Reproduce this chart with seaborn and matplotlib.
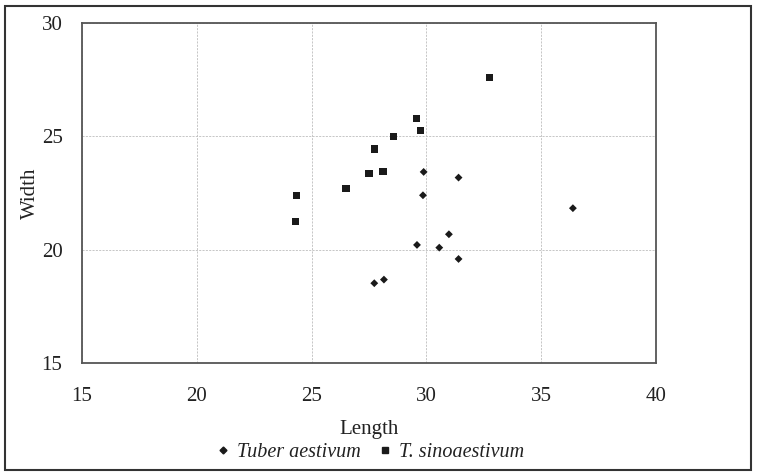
import pandas as pd
import matplotlib
matplotlib.use('Agg')
import matplotlib.pyplot as plt
import seaborn as sns
from matplotlib.patches import Rectangle

# Length / width readings
aestivum_length = [29.88, 31.40, 29.85, 30.98, 29.59, 30.56, 31.40, 27.73, 28.15, 36.38]
aestivum_width  = [23.43, 23.18, 22.40, 20.68, 20.21, 20.09, 19.59, 18.52, 18.68, 21.83]

sino_length = [32.74, 29.58, 29.75, 28.57, 27.75, 27.50, 28.11, 26.50, 24.35, 24.29]
sino_width  = [27.60, 25.77, 25.27, 25.01, 24.44, 23.35, 23.43, 22.69, 22.37, 21.24]

species = ['Tuber aestivum', 'T. sinoaestivum']
x_ticks = [15, 20, 25, 30, 35, 40]
y_ticks = [15, 20, 25, 30]

df = pd.concat([
    pd.DataFrame({'Length': aestivum_length, 'Width': aestivum_width, 'species': species[0]}),
    pd.DataFrame({'Length': sino_length, 'Width': sino_width, 'species': species[1]}),
], ignore_index=True)

sns.set_style('white')
plt.rcParams['font.family'] = ['Liberation Serif', 'DejaVu Serif']

fig = plt.figure(figsize=(7.57, 4.72), dpi=100)
ax = fig.add_axes([0.1083, 0.2309, 0.7583, 0.7204])

sns.scatterplot(
    data=df, x='Length', y='Width',
    style='species', markers={species[0]: 'D', species[1]: 's'},
    hue='species', palette={species[0]: '#1a1a1a', species[1]: '#1a1a1a'},
    size='species', sizes={species[0]: 16, species[1]: 26},
    edgecolor='none', linewidth=0, legend=False, ax=ax
)

ax.set_xlim(15, 40)
ax.set_ylim(15, 30)
ax.set_xticks(x_ticks)
ax.set_yticks(y_ticks)
ax.tick_params(axis='both', length=0, labelsize=15, colors='#222222')
ax.tick_params(axis='x', pad=17)
ax.tick_params(axis='y', pad=14)
ax.grid(True, color='#bdbdbd', linestyle=(0, (2.5, 1.5)), linewidth=0.6)
for s in ax.spines.values():
    s.set_color('#555555')
    s.set_linewidth(1.3)
    s.set_visible(True)

ax.set_xlabel('Length', fontsize=15, color='#222222', labelpad=10)
ax.set_ylabel('Width', fontsize=15, color='#222222', labelpad=1)

# legend below the axis label
handles = [
    plt.Line2D([], [], marker='D', linestyle='none', color='#1a1a1a', markersize=3.5),
    plt.Line2D([], [], marker='s', linestyle='none', color='#1a1a1a', markersize=4),
]
leg = fig.legend(handles, species, loc='center', bbox_to_anchor=(0.487, 0.042),
                 ncol=2, frameon=False, handletextpad=0.2, columnspacing=0.7,
                 handlelength=1.0, prop={'size': 14.5, 'style': 'italic'})
for t in leg.get_texts():
    t.set_color('#222222')

# outer frame around the whole chart
fig.patches.append(Rectangle((0.006, 0.004), 0.986, 0.983, transform=fig.transFigure,
                             fill=False, edgecolor='#333333', linewidth=1.5))

fig.savefig('out.png', dpi=100)
